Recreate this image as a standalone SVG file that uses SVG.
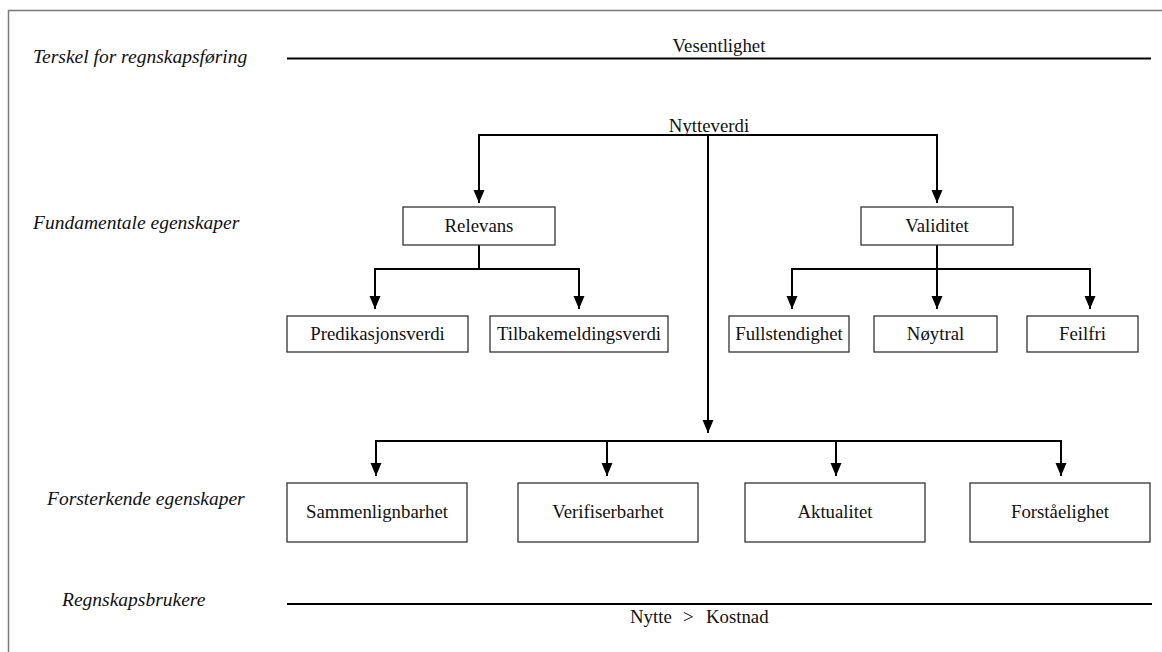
<svg xmlns="http://www.w3.org/2000/svg" width="1162" height="652" viewBox="0 0 1162 652">
<defs>
<marker id="ah" markerUnits="userSpaceOnUse" markerWidth="14" markerHeight="12" refX="13" refY="6" orient="auto">
<path d="M0,0.5 L13,6 L0,11.5 z" fill="#000"/>
</marker>
<style>
.t{font-family:"Liberation Serif","Times New Roman",serif;font-size:18.8px;fill:#111}
.c{text-anchor:middle}
.i{font-style:italic;font-size:19.5px}
.box{fill:#fff;stroke:#333;stroke-width:1.3}
.con{fill:none;stroke:#000;stroke-width:2}
.arr{marker-end:url(#ah)}
.rule{stroke:#000;stroke-width:2}
</style>
</defs>
<rect width="1162" height="652" fill="#fff"/>
<rect x="8.5" y="10.5" width="1170" height="660" fill="none" stroke="#7a7a7a" stroke-width="1.5"/>

<g id="labels">
<text class="t i" x="33" y="63">Terskel for regnskapsføring</text>
<text class="t i" x="33" y="229">Fundamentale egenskaper</text>
<text class="t i" x="47" y="505">Forsterkende egenskaper</text>
<text class="t i" x="62" y="606">Regnskapsbrukere</text>
</g>

<g id="vesentlighet">
<line class="rule" x1="287" y1="58.5" x2="1151" y2="58.5"/>
<text class="t c" x="719" y="52">Vesentlighet</text>
</g>

<g id="nytte-kostnad">
<line class="rule" x1="287" y1="604" x2="1152" y2="604"/>
<text class="t" x="630" y="623">Nytte</text>
<text class="t" x="683" y="623">&gt;</text>
<text class="t" x="706" y="623">Kostnad</text>
</g>

<g id="connectors">
<path class="con arr" d="M708,135 H479 V203"/>
<path class="con arr" d="M708,135 H937 V203"/>
<path class="con arr" d="M708,135 V433"/>
<path class="con arr" d="M479,245 V269 H375 V309"/>
<path class="con arr" d="M479,269 H579 V309"/>
<path class="con arr" d="M937,245 V309"/>
<path class="con arr" d="M937,269 H792 V309"/>
<path class="con arr" d="M937,269 H1090 V309"/>
<path class="con arr" d="M708,441 H376 V476"/>
<path class="con arr" d="M708,441 H607 V476"/>
<path class="con arr" d="M708,441 H836 V476"/>
<path class="con arr" d="M708,441 H1061 V476"/>
</g>

<g id="nytteverdi"><text class="t c" x="709" y="132">Nytteverdi</text></g>

<g id="relevans"><rect class="box" x="403" y="207" width="152" height="38"/><text class="t c" x="479" y="232">Relevans</text></g>
<g id="validitet"><rect class="box" x="861" y="207" width="152" height="38"/><text class="t c" x="937" y="232">Validitet</text></g>

<g id="predikasjonsverdi"><rect class="box" x="287" y="316" width="181" height="36"/><text class="t c" x="377.5" y="340">Predikasjonsverdi</text></g>
<g id="tilbakemeldingsverdi"><rect class="box" x="490" y="316" width="178" height="36"/><text class="t c" x="579" y="340">Tilbakemeldingsverdi</text></g>
<g id="fullstendighet"><rect class="box" x="729" y="316" width="120" height="36"/><text class="t c" x="789" y="340">Fullstendighet</text></g>
<g id="noytral"><rect class="box" x="874" y="316" width="123" height="36"/><text class="t c" x="935.5" y="340">Nøytral</text></g>
<g id="feilfri"><rect class="box" x="1027" y="316" width="111" height="36"/><text class="t c" x="1082.5" y="340">Feilfri</text></g>

<g id="sammenlignbarhet"><rect class="box" x="287" y="483" width="180" height="59"/><text class="t c" x="377" y="518">Sammenlignbarhet</text></g>
<g id="verifiserbarhet"><rect class="box" x="518" y="483" width="180" height="59"/><text class="t c" x="608" y="518">Verifiserbarhet</text></g>
<g id="aktualitet"><rect class="box" x="745" y="483" width="180" height="59"/><text class="t c" x="835" y="518">Aktualitet</text></g>
<g id="forstaelighet"><rect class="box" x="970" y="483" width="180" height="59"/><text class="t c" x="1060" y="518">Forståelighet</text></g>
</svg>
